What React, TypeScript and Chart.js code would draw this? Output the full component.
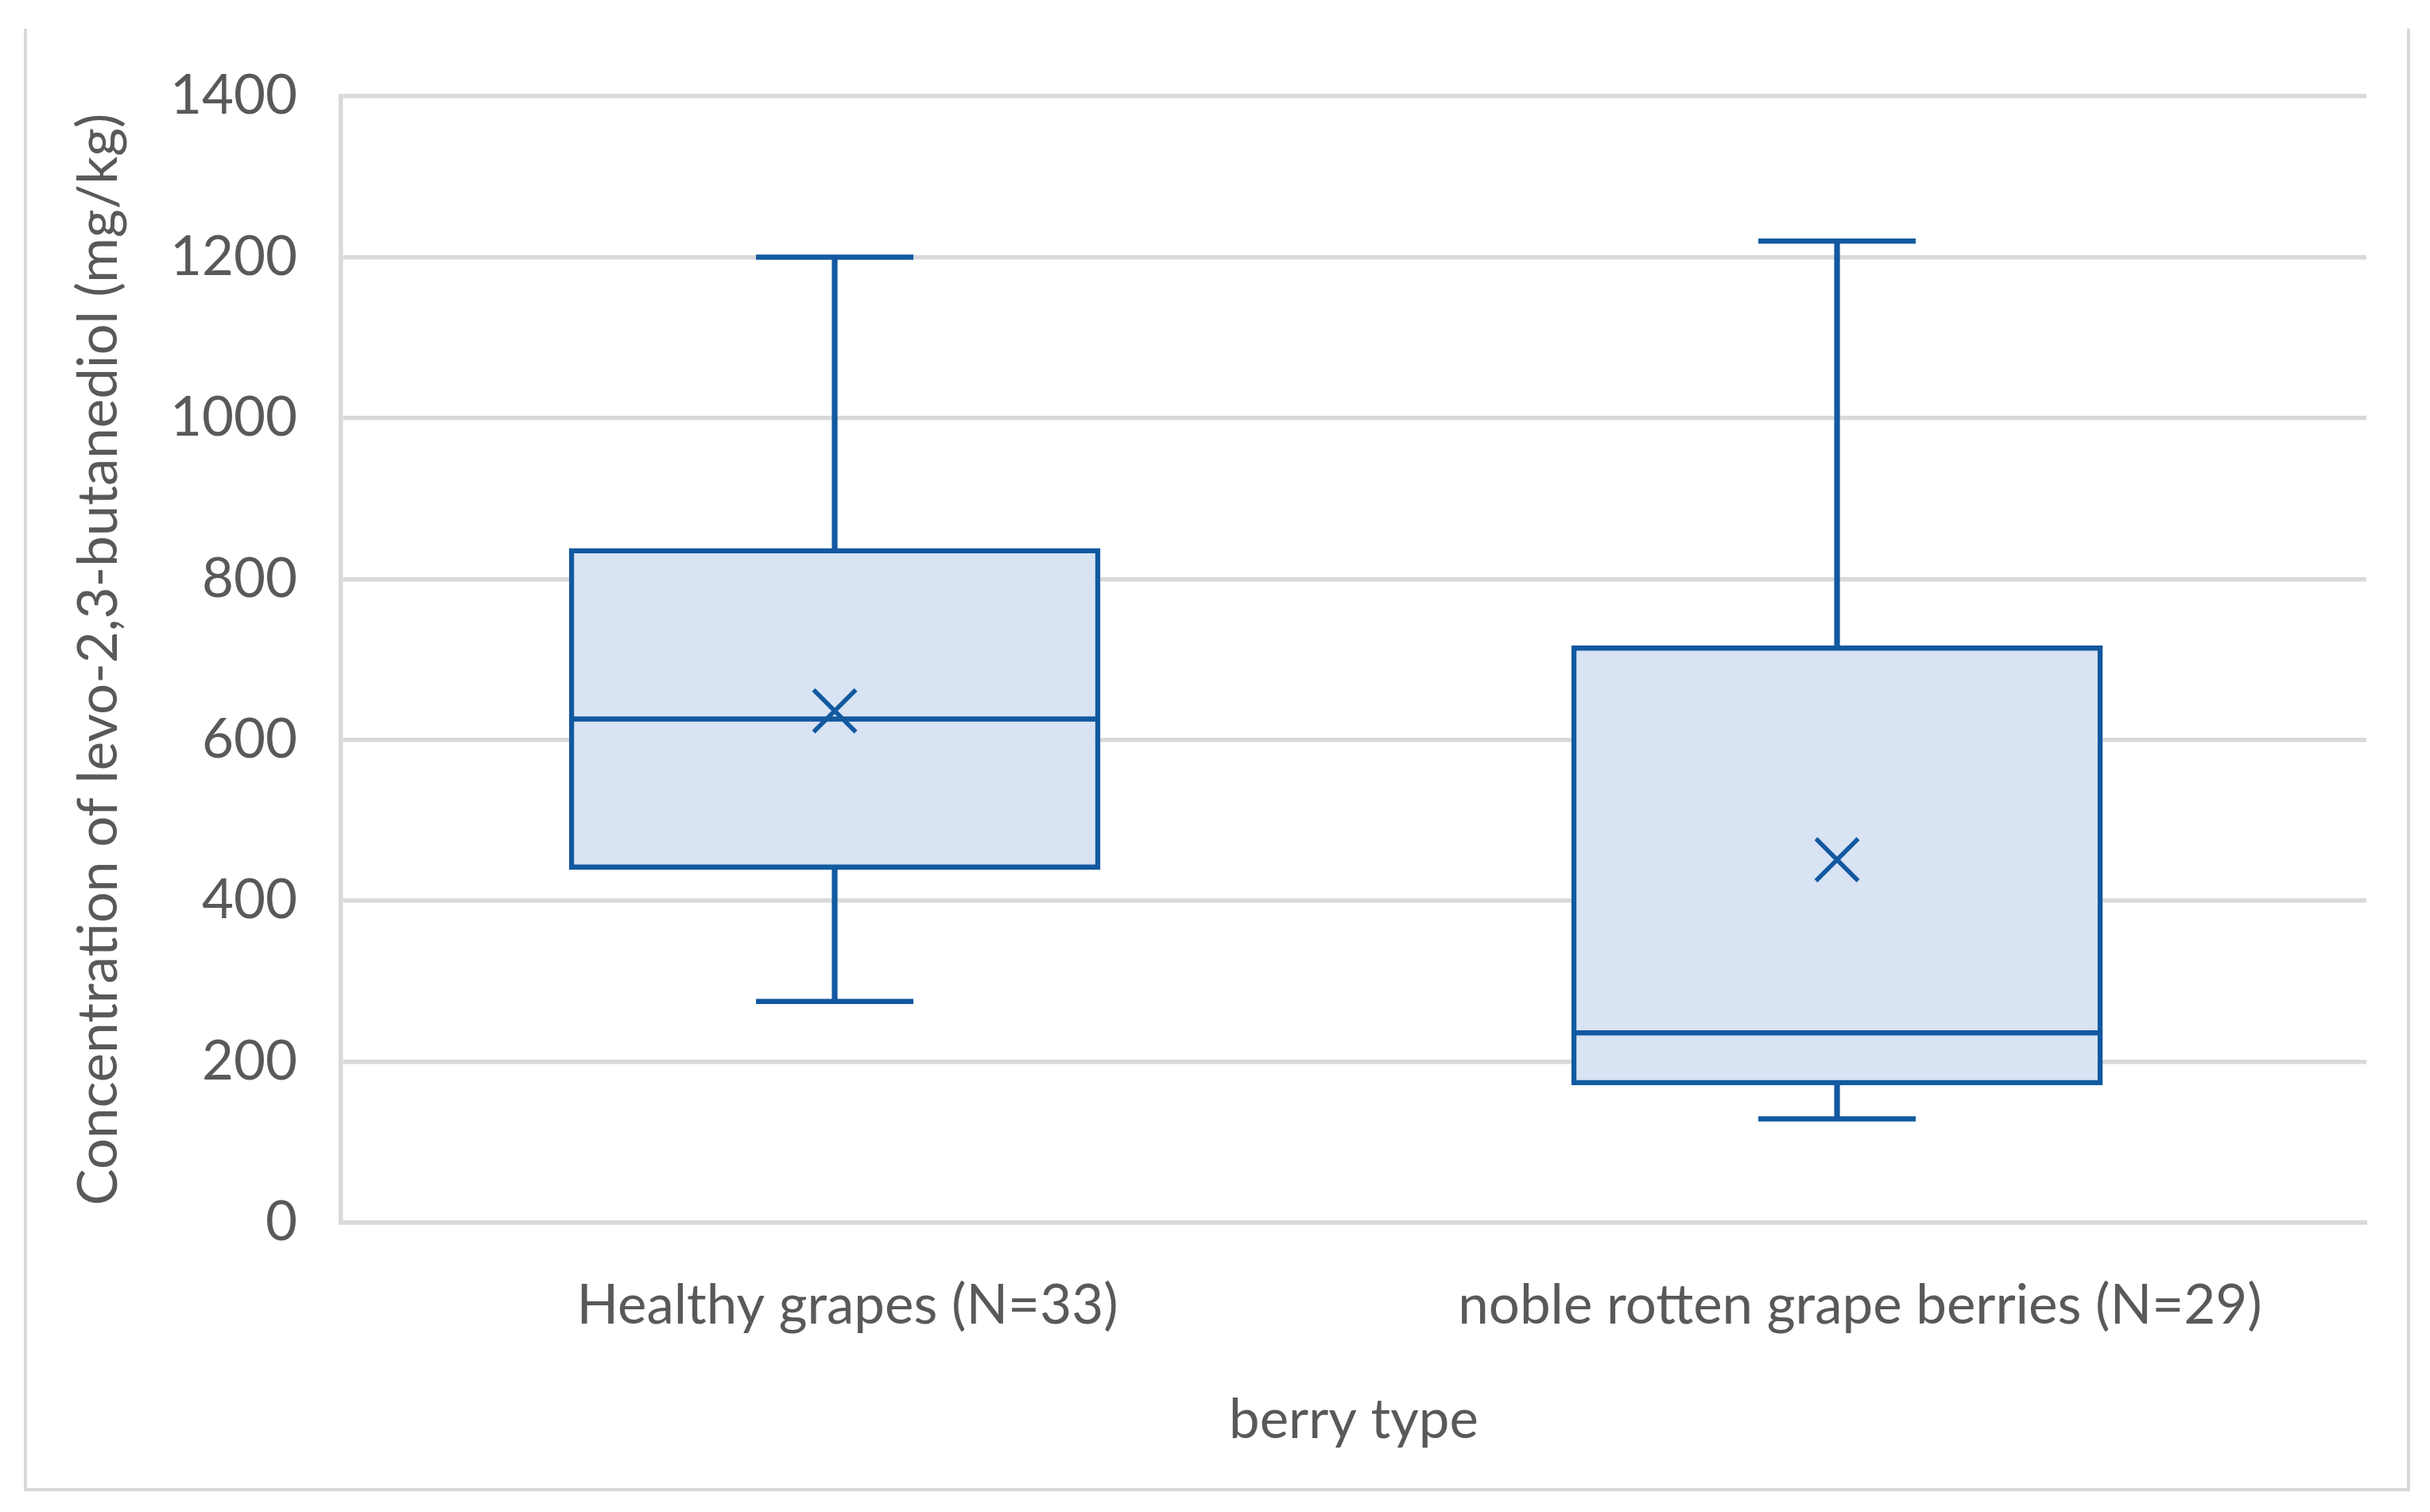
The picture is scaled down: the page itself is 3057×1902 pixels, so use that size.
import React, { useEffect, useRef } from 'react';
import { Chart, registerables } from 'chart.js';

Chart.register(...registerables);

// ---- data ----
const categories = ['Healthy grapes (N=33)', 'noble rotten grape berries (N=29)'];
const whiskerMin = [275, 129];
const quartile1 = [439, 171];
const medianValues = [626, 236];
const quartile3 = [838, 717];
const whiskerMax = [1200, 1220];
const meanValues = [636, 451];
const yTickValues = [0, 200, 400, 600, 800, 1000, 1200, 1400];

const xAxisTitle = 'berry type';
const yAxisTitle = 'Concentration of levo-2,3-butanediol (mg/kg)';

// ---- styles / layout ----
const STROKE = '#1259A0';
const FILL = '#D8E3F3';
const GRID = '#D9D9D9';
const TEXT = '#595959';
const FONT = 'Lato';
const FONT_SIZE = 69;
const LW = 6.5;
// hidden index axis for the box marks (Excel draws boxes slightly left of the label centres)
const MARK_AXIS_MIN = -0.4925;
const MARK_AXIS_MAX = 1.5281;

const W = 3057;
const H = 1902;

export default function App() {
  const ref = useRef<HTMLCanvasElement | null>(null);

  useEffect(() => {
    const canvas = ref.current;
    if (!canvas) return;
    const lh = FONT_SIZE * 1.2;
    const pts = (vals: number[]) => vals.map((v, i) => ({ x: i, y: v }));
    const range = (a: number[], b: number[]) => a.map((v, i) => ({ x: i, y: [v, b[i]] }));
    const pointSet = (label: string, vals: number[], style: string, radius: number, width: number, order: number) => ({
      type: 'line',
      label,
      xAxisID: 'xm',
      data: pts(vals),
      showLine: false,
      pointStyle: style,
      pointRadius: radius,
      pointBorderColor: STROKE,
      pointBackgroundColor: STROKE,
      pointBorderWidth: width,
      clip: false,
      order,
    });
    const chart = new Chart(canvas, {
      type: 'bar',
      data: {
        labels: categories,
        datasets: [
          {
            type: 'bar',
            label: 'box',
            xAxisID: 'xm',
            data: range(quartile1, quartile3),
            backgroundColor: FILL,
            borderColor: STROKE,
            borderWidth: LW,
            borderSkipped: false,
            barThickness: 668,
            grouped: false,
            order: 10,
          } as any,
          {
            type: 'bar',
            label: 'lower whisker',
            xAxisID: 'xm',
            data: range(whiskerMin, quartile1),
            backgroundColor: STROKE,
            borderWidth: 0,
            barThickness: LW,
            grouped: false,
            order: 9,
          } as any,
          {
            type: 'bar',
            label: 'upper whisker',
            xAxisID: 'xm',
            data: range(quartile3, whiskerMax),
            backgroundColor: STROKE,
            borderWidth: 0,
            barThickness: LW,
            grouped: false,
            order: 9,
          } as any,
          pointSet('min cap', whiskerMin, 'line', 99, LW, 3) as any,
          pointSet('max cap', whiskerMax, 'line', 99, LW, 3) as any,
          pointSet('median', medianValues, 'line', 330, LW, 2) as any,
          pointSet('mean', meanValues, 'crossRot', 37.5, 5.5, 1) as any,
        ],
      },
      options: {
        responsive: false,
        animation: false,
        devicePixelRatio: 1,
        events: [],
        layout: { autoPadding: false, padding: { top: 121, right: 80, left: 0, bottom: 0 } },
        plugins: {
          legend: { display: false },
          tooltip: { enabled: false },
        },
        scales: {
          x: {
            type: 'category',
            offset: true,
            grid: { display: false, drawTicks: false },
            border: { display: true, color: GRID, width: 5.5 },
            ticks: {
              color: TEXT,
              font: { family: FONT, size: FONT_SIZE },
              padding: 1643 - 1538 - lh / 2,
              maxRotation: 0,
              autoSkip: false,
            },
            title: {
              display: true,
              text: xAxisTitle,
              color: TEXT,
              font: { family: FONT, size: FONT_SIZE },
              padding: { top: 0, bottom: 115 - lh / 2 },
            },
            afterFit: (scale: any) => {
              scale.height = H - 1538;
            },
          },
          xm: {
            type: 'linear',
            axis: 'x',
            position: 'bottom',
            display: false,
            offset: false,
            bounds: 'data',
            grid: { offset: false },
            min: MARK_AXIS_MIN,
            max: MARK_AXIS_MAX,
          },
          y: {
            type: 'linear',
            min: 0,
            max: 1400,
            grid: { color: GRID, lineWidth: 5.5, drawTicks: false },
            border: { display: true, color: GRID, width: 5.5 },
            afterBuildTicks: (scale: any) => {
              scale.ticks = yTickValues.map((v) => ({ value: v }));
            },
            ticks: {
              color: TEXT,
              font: { family: FONT, size: FONT_SIZE },
              padding: 55,
              callback: (v: any) => String(v),
            },
            title: {
              display: true,
              text: yAxisTitle,
              color: TEXT,
              font: { family: FONT, size: FONT_SIZE },
              padding: { top: 125 - lh / 2, bottom: 0 },
            },
            afterFit: (scale: any) => {
              scale.width = 429;
            },
          },
        },
      } as any,
    });
    return () => chart.destroy();
  }, []);

  return (
    <div
      style={{
        position: 'fixed',
        left: 0,
        top: 0,
        width: W,
        height: H,
        background: '#ffffff',
        overflow: 'hidden',
      }}
    >
      <div
        style={{
          position: 'absolute',
          left: 30,
          top: 36,
          width: 3032 - 30 - 8,
          height: 1876 - 36 - 4,
          borderLeft: `4px solid ${GRID}`,
          borderRight: `4px solid ${GRID}`,
          borderBottom: `4px solid ${GRID}`,
        }}
      />
      <canvas
        ref={ref}
        width={W}
        height={H}
        style={{ position: 'absolute', left: 0, top: 0, width: W, height: H }}
      />
    </div>
  );
}
